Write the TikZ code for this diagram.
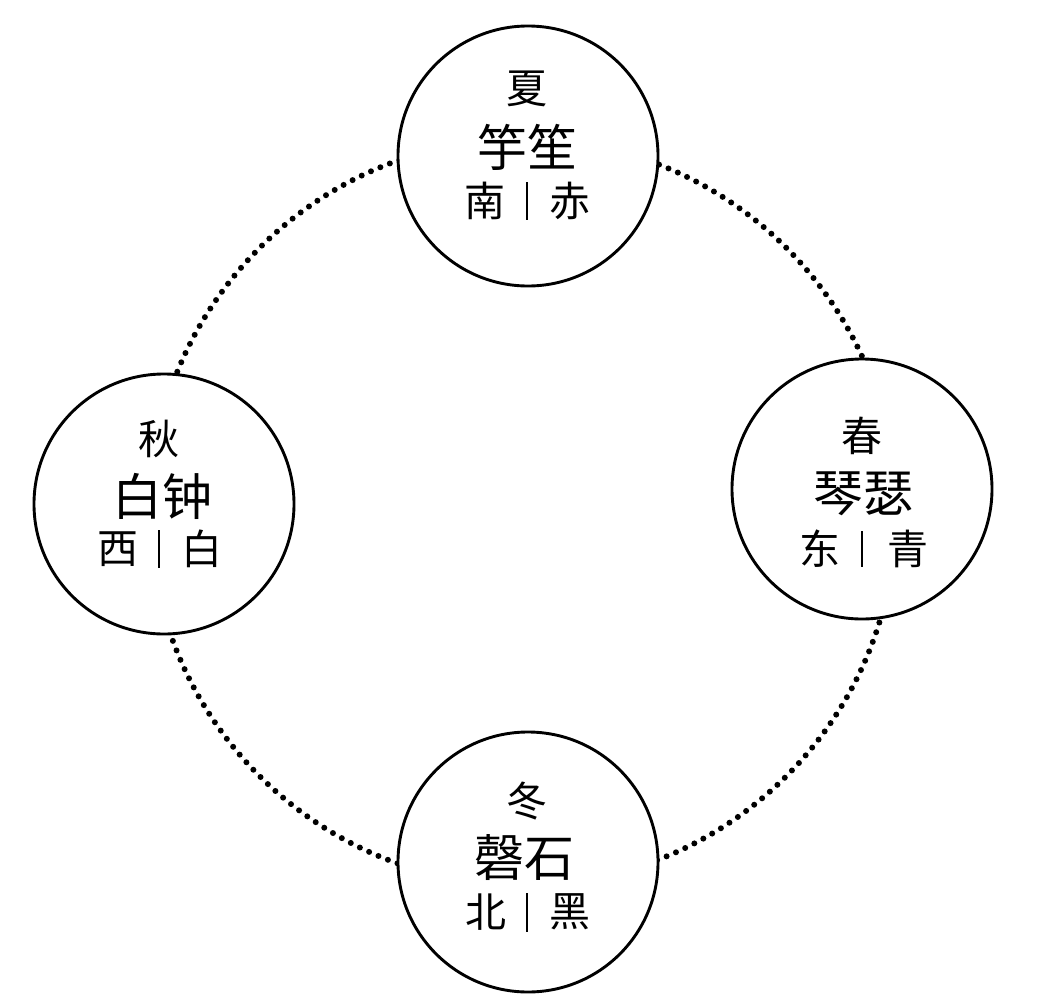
\documentclass[tikz,border=0pt]{standalone}
\usepackage{fontspec}
\newfontfamily\cjk{Noto Sans CJK SC}
\begin{document}
\begin{tikzpicture}[x=1pt,y=-1pt,
  ring/.style={circle, draw, line width=2.9pt, fill=white, minimum size=260pt, inner sep=0pt},
  bigtxt/.style={font=\cjk\fontsize{50}{50}\selectfont, inner sep=0pt},
  smalltxt/.style={font=\cjk\fontsize{41}{41}\selectfont, inner sep=0pt},
  sepbar/.style={line width=1.6pt},
  dotring/.style={line width=6pt, line cap=round, dash pattern=on 0pt off 10.2pt}]
\useasboundingbox (0,0) rectangle (1054,1001);
\coordinate (O) at (523,512);
\draw[dotring] (O) circle[radius=373];
% summer
\node[ring] (xia) at (528,156) {};
\node[smalltxt] (xiaA) at (527,89) {夏};
\node[bigtxt] (xiaB) at (527,147) {竽笙};
\node[smalltxt] (xiaC) at (485,201) {南};
\node[smalltxt] (xiaD) at (570,201) {赤};
\draw[sepbar] (527,182) -- (527,220);
% spring
\node[ring] (chun) at (862,489) {};
\node[smalltxt] (chunA) at (862,436) {春};
\node[bigtxt] (chunB) at (863,494) {琴瑟};
\node[smalltxt] (chunC) at (820,549) {东};
\node[smalltxt] (chunD) at (908,549) {青};
\draw[sepbar] (862,531) -- (862,567);
% autumn
\node[ring] (qiu) at (164,504) {};
\node[smalltxt] (qiuA) at (159,439) {秋};
\node[bigtxt] (qiuB) at (162,496) {白钟};
\node[smalltxt] (qiuC) at (118,549) {西};
\node[smalltxt] (qiuD) at (202,549) {白};
\draw[sepbar] (159,530) -- (159,568);
% winter
\node[ring] (dong) at (528,862) {};
\node[smalltxt] (dongA) at (527,801) {冬};
\node[bigtxt] (dongB) at (524,858) {磬石};
\node[smalltxt] (dongC) at (486,912) {北};
\node[smalltxt] (dongD) at (570,912) {黑};
\draw[sepbar] (527,893) -- (527,932);
\end{tikzpicture}
\end{document}
